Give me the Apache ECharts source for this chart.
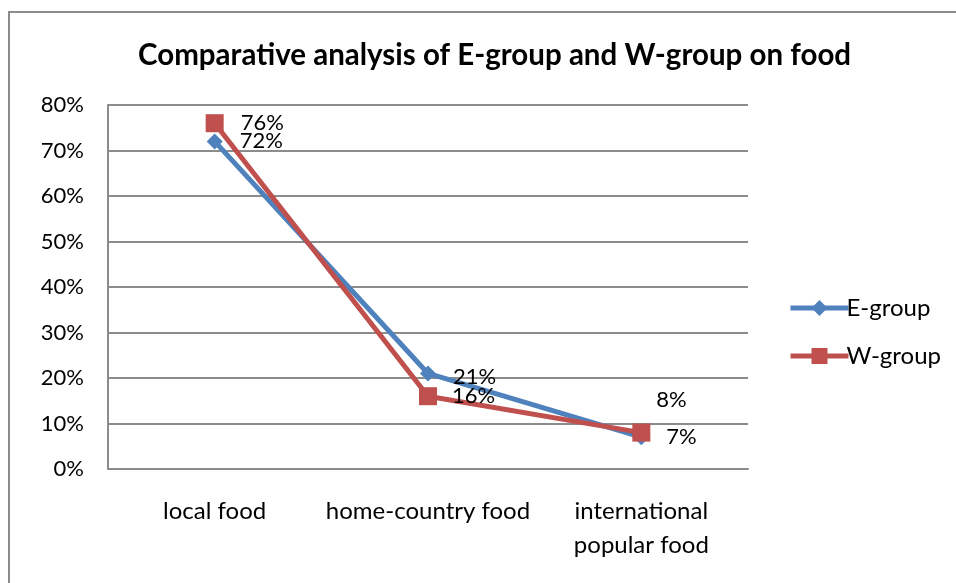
<!DOCTYPE html>
<html>
<head>
<meta charset="utf-8">
<script src="https://cdn.jsdelivr.net/npm/echarts@6/dist/echarts.min.js"></script>
<style>
  html, body { margin: 0; padding: 0; background: #fff; }
  #chart { width: 956px; height: 583px; }
</style>
</head>
<body>
<div id="chart"></div>
<script>
const categories = ['local food', 'home-country food', 'international\npopular food'];
const eGroup = [72, 21, 7];
const wGroup = [76, 16, 8];
const yTicks = [0, 80, 10]; // min, max, step

const chart = echarts.init(document.getElementById('chart'));
const font = 'Lato, "Open Sans", sans-serif';

// label placement per point, like the original
const eLabels = [
    { position: 'right', offset: [12, 0] },
    { position: 'right', offset: [12, 3] },
    { position: 'right', offset: [12, 0] }
];
const wLabels = [
    { position: 'right', offset: [12, 0] },
    { position: 'right', offset: [10, 0] },
    { position: 'top', offset: [30, -8] }
];

function build(values, labels) {
    return values.map(function (v, i) {
        return { value: v, label: labels[i] };
    });
}

const option = {
    animation: false,
    textStyle: { fontFamily: font },
    title: {
        text: 'Comparative analysis of E-group and W-group on food',
        left: 133,
        top: 35,
        textStyle: { fontSize: 29.5, fontWeight: 'bold', color: '#000', fontFamily: font }
    },
    graphic: [{
        type: 'rect',
        shape: { x: 9, y: 12, width: 1000, height: 700 },
        style: { fill: 'none', stroke: '#8c8c8c', lineWidth: 2 },
        silent: true
    }],
    legend: {
        orient: 'vertical',
        left: 783,
        top: 291,
        itemWidth: 58,
        itemHeight: 20,
        itemGap: 24,
        lineStyle: { width: 5 },
        textStyle: { fontSize: 24, color: '#000', fontFamily: font, padding: [0, 0, 0, -7] },
        data: ['E-group', 'W-group']
    },
    grid: { left: 108, right: 208, top: 105, bottom: 114 },
    xAxis: {
        type: 'category',
        data: categories,
        boundaryGap: true,
        axisTick: { show: false },
        axisLine: { lineStyle: { color: '#8c8c8c', width: 2 } },
        axisLabel: { fontSize: 24, color: '#000', margin: 25, lineHeight: 34, interval: 0, fontFamily: font }
    },
    yAxis: {
        type: 'value',
        min: yTicks[0],
        max: yTicks[1],
        interval: yTicks[2],
        axisLine: { show: true, lineStyle: { color: '#8c8c8c', width: 2 } },
        axisTick: { show: false },
        splitLine: { lineStyle: { color: '#8c8c8c', width: 2 } },
        axisLabel: { fontSize: 22, color: '#000', margin: 24, formatter: '{value}%', fontFamily: font }
    },
    series: [
        {
            name: 'E-group',
            type: 'line',
            data: build(eGroup, eLabels),
            symbol: 'diamond',
            symbolSize: 16,
            lineStyle: { width: 5, color: '#4f81bd' },
            itemStyle: { color: '#4f81bd' },
            label: { show: true, formatter: '{c}%', fontSize: 22, color: '#000', fontFamily: font },
            z: 2
        },
        {
            name: 'W-group',
            type: 'line',
            data: build(wGroup, wLabels),
            symbol: 'rect',
            symbolSize: 18,
            lineStyle: { width: 5, color: '#c0504d' },
            itemStyle: { color: '#c0504d' },
            label: { show: true, formatter: '{c}%', fontSize: 22, color: '#000', fontFamily: font },
            z: 3
        }
    ]
};

chart.setOption(option);
window.addEventListener('resize', () => {
    chart.resize();
});
</script>
</body>
</html>
